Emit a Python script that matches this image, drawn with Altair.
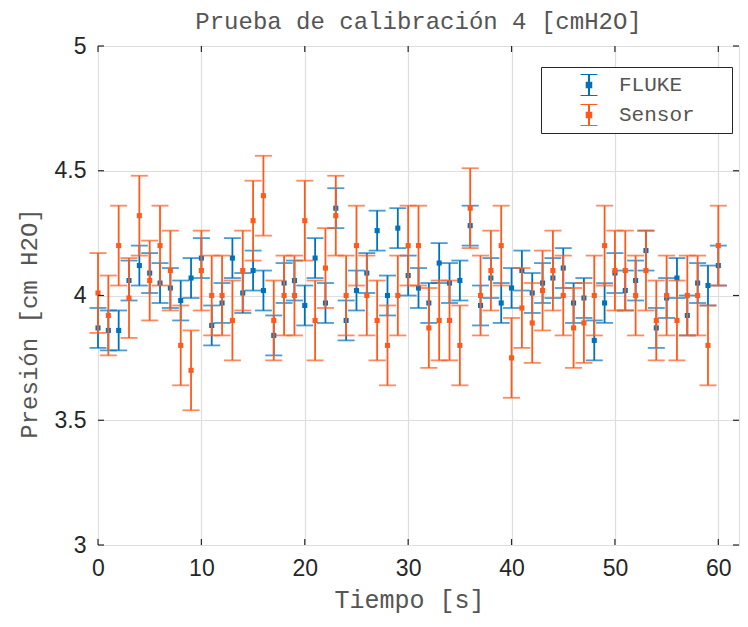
import altair as alt
import pandas as pd

# ---------------- data ----------------
tiempo = list(range(61))
fluke = [3.87, 3.86, 3.86, 4.06, 4.12, 4.09, 4.05, 4.03, 3.98, 4.07,
         4.15, 3.88, 3.97, 4.15, 4.01, 4.10, 4.02, 3.84, 4.05, 4.06,
         3.96, 4.15, 3.97, 4.35, 3.90, 4.02, 4.09, 4.26, 4.00, 4.27,
         4.08, 4.03, 3.97, 4.13, 4.05, 4.06, 4.28, 3.96, 4.07, 3.97,
         4.03, 4.10, 4.01, 4.05, 4.07, 4.11, 3.97, 3.99, 3.82, 3.97,
         4.09, 4.02, 4.06, 4.18, 3.87, 3.99, 4.07, 3.92, 4.05, 4.04,
         4.12]
sensor = [4.01, 3.92, 4.20, 3.99, 4.32, 4.06, 4.20, 4.10, 3.80, 3.70,
          4.10, 4.00, 4.00, 3.90, 4.10, 4.30, 4.40, 3.90, 4.00, 4.00,
          4.30, 3.90, 4.11, 4.32, 4.00, 4.20, 4.00, 3.90, 3.80, 4.00,
          4.20, 4.20, 3.87, 3.90, 3.90, 3.80, 4.35, 4.00, 4.10, 4.20,
          3.75, 3.95, 3.89, 4.02, 4.10, 4.00, 3.87, 3.89, 4.00, 4.20,
          4.10, 4.10, 4.00, 4.10, 3.90, 4.00, 3.90, 4.00, 4.00, 3.80,
          4.20]
fluke_err = 0.08
sensor_err = 0.16
series_names = ["FLUKE", "Sensor"]
series_colors = ["#0072BD", "#FF5A1C"]
x_ticks = [0, 10, 20, 30, 40, 50, 60]
y_ticks = [3, 3.5, 4, 4.5, 5]

rows = []
for name, vals, err in ((series_names[0], fluke, fluke_err),
                        (series_names[1], sensor, sensor_err)):
    for ti, v in zip(tiempo, vals):
        rows.append({"t": ti, "p": v, "lo": v - err, "hi": v + err, "serie": name})
df = pd.DataFrame(rows)
xt_df = pd.DataFrame({"v": x_ticks})
yt_df = pd.DataFrame({"v": y_ticks})

# ---------------- style ----------------
W, H = 641, 499
MONO = "Courier New, Liberation Mono, monospace"
SANS = "Liberation Sans, Helvetica, Arial, sans-serif"
AX = "#262626"
TXT = "#555555"

xs = alt.Scale(domain=[0, 62], nice=False, zero=False)
ys = alt.Scale(domain=[3, 5], nice=False, zero=False)
cs = alt.Scale(domain=series_names, range=series_colors)

x_axis = alt.Axis(values=x_ticks, title="Tiempo [s]", grid=True, ticks=False, domain=False,
                  labelFont=SANS, labelFontSize=23, labelColor=AX, labelPadding=12,
                  labelFlush=False,
                  titleFont=MONO, titleFontSize=25, titleFontWeight="normal",
                  titleColor=TXT, titleX=311, titleY=54, titleBaseline="middle",
                  gridColor="#dedede", gridWidth=1.2)
y_axis = alt.Axis(values=y_ticks, title="Presión [cm H2O]", grid=True, ticks=False, domain=False,
                  format="~g", labelFont=SANS, labelFontSize=23, labelColor=AX, labelPadding=12,
                  labelFlush=False,
                  titleFont=MONO, titleFontSize=24, titleFontWeight="normal",
                  titleColor=TXT, titleX=-69, titleY=277, titleBaseline="middle",
                  gridColor="#dedede", gridWidth=1.2)

legend_path = ("M0.23,-0.338L0.23,0.338"
               "M-0.03,-0.338L0.49,-0.338"
               "M-0.03,0.338L0.49,0.338"
               "M0.16,-0.07L0.30,-0.07L0.30,0.07L0.16,0.07Z")

base = alt.Chart(df)
layers = []
for i, name in enumerate(series_names):
    sub = base.transform_filter(alt.datum.serie == name)
    leg = None
    if i == 0:
        leg = alt.Legend(title=None, orient="none", legendX=443, legendY=21,
                         symbolType=legend_path, symbolSize=4225, symbolStrokeWidth=2,
                         clipHeight=22, rowPadding=8, padding=7,
                         labelFont=MONO, labelFontSize=21, labelColor=TXT,
                         labelOffset=4, labelExpr="datum.label + '\u2800\u2800'",
                         strokeColor=AX, fillColor="white")
    color_enc = alt.Color("serie:N", scale=cs, legend=leg)
    color_nl = alt.Color("serie:N", scale=cs, legend=None)
    bars = sub.mark_rule(strokeWidth=1.8).encode(
        x=alt.X("t:Q", scale=xs, axis=x_axis),
        y=alt.Y("lo:Q", scale=ys, axis=y_axis),
        y2="hi:Q",
        color=color_enc,
    )
    cap_lo = sub.mark_tick(orient="horizontal", size=17, thickness=1.8).encode(
        x=alt.X("t:Q", scale=xs), y=alt.Y("lo:Q", scale=ys), color=color_nl)
    cap_hi = sub.mark_tick(orient="horizontal", size=17, thickness=1.8).encode(
        x=alt.X("t:Q", scale=xs), y=alt.Y("hi:Q", scale=ys), color=color_nl)
    pts = sub.mark_square(size=26, opacity=1, filled=True).encode(
        x=alt.X("t:Q", scale=xs), y=alt.Y("p:Q", scale=ys), color=color_nl)
    layers += [bars, cap_lo, cap_hi, pts]

xt = alt.Chart(xt_df)
yt = alt.Chart(yt_df)
tick_layers = [
    xt.mark_rule(color=AX, strokeWidth=1.2).encode(
        x=alt.X("v:Q", scale=xs), y=alt.value(H), y2=alt.value(H - 6)),
    xt.mark_rule(color=AX, strokeWidth=1.2).encode(
        x=alt.X("v:Q", scale=xs), y=alt.value(0), y2=alt.value(6)),
    yt.mark_rule(color=AX, strokeWidth=1.2).encode(
        y=alt.Y("v:Q", scale=ys), x=alt.value(0), x2=alt.value(6)),
    yt.mark_rule(color=AX, strokeWidth=1.2).encode(
        y=alt.Y("v:Q", scale=ys), x=alt.value(W), x2=alt.value(W - 6)),
]

chart = alt.layer(*layers, *tick_layers).properties(
    width=W, height=H,
    title=alt.TitleParams("Prueba de calibración 4 [cmH2O]", font=MONO, fontSize=24,
                          fontWeight="normal", color=TXT, offset=1, frame="group"),
    autosize=alt.AutoSizeParams(type="none"),
    padding={"left": 90, "top": 38, "right": 1, "bottom": 71},
).configure_view(stroke=AX, strokeWidth=1.5).configure(background="white")

chart.save("out.html", embed_options={"renderer": "svg", "actions": False})
